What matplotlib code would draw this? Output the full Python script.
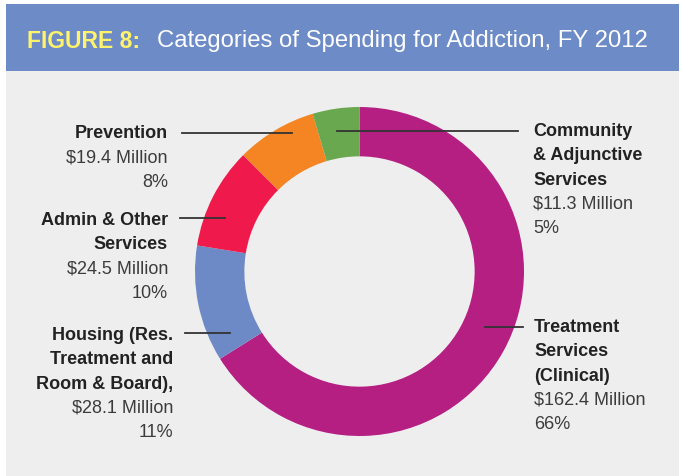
import matplotlib
matplotlib.use("Agg")
import matplotlib.pyplot as plt
from matplotlib.patches import Rectangle
from matplotlib.lines import Line2D

# ==================================
# DATA
# ==================================

categories = [
    "Treatment\nServices\n(Clinical)",
    "Housing (Res.\nTreatment and\nRoom & Board),",
    "Admin & Other\nServices",
    "Prevention",
    "Community\n& Adjunctive\nServices",
]
spending = [162.4, 28.1, 24.5, 19.4, 11.3]
percents = [66, 11, 10, 8, 5]
colors = ["#B51F82", "#6D8AC6", "#EF1A4B", "#F58422", "#6AA84F"]

# ==================================
# LAYOUT (figure pixels, y from top)
# ==================================

W, H = 682, 476
cx, cy, R = 359.5, 271.5, 164.5

# text anchor (x, first baseline, alignment), leader (x0, x1, y)
label_pos = [
    (534, 332, "left", (485, 523, 327)),
    (173, 340, "right", (185, 230, 333)),
    (168, 225, "right", (180, 225, 218)),
    (168, 138, "right", (182, 292, 132.5)),
    (533, 136, "left", (337, 518, 131)),
]
line_gap = 24.3


def fx(px):
    return px / W


def fy(py):
    return (H - py) / H


fig = plt.figure(figsize=(6.82, 4.76), dpi=100)
fig.patch.set_facecolor("white")

# panel background and header band
fig.add_artist(Rectangle((fx(6), 0), fx(W - 9), fy(4), transform=fig.transFigure,
                         facecolor="#EEEEEE", edgecolor="none", zorder=0))
fig.add_artist(Rectangle((fx(6), fy(71)), fx(W - 9), fy(4) - fy(71),
                         transform=fig.transFigure,
                         facecolor="#6D8BC7", edgecolor="none", zorder=1))

fig.text(fx(27), fy(47.5), "FIGURE 8:", color="#FFF36B", fontsize=16.5,
         fontweight="bold", family="Liberation Sans", va="baseline")
fig.text(fx(157), fy(47.5), "Categories of Spending for Addiction, FY 2012",
         color="white", fontsize=17.2, family="Liberation Sans", va="baseline")

# ==================================
# DONUT
# ==================================

ax = fig.add_axes([fx(cx - R), fy(cy + R), fx(2 * R), fy(cy - R) - fy(cy + R)])
ax.pie(
    spending,
    colors=colors,
    startangle=90,
    counterclock=False,
    radius=1,
    wedgeprops=dict(width=0.30, edgecolor="none"),
)
ax.set_xlim(-1, 1)
ax.set_ylim(-1, 1)
ax.set_aspect("auto")
ax.axis("off")

# ==================================
# LABELS
# ==================================

for name, value, pct, (tx, ty, ha, leader) in zip(
        categories, spending, percents, label_pos):
    lines = name.split("\n")
    y = ty
    for ln in lines:
        fig.text(fx(tx), fy(y), ln, ha=ha, va="baseline", fontsize=13,
                 fontweight="bold", color="#222222", family="Liberation Sans")
        y += line_gap
    fig.text(fx(tx), fy(y), f"${value} Million", ha=ha, va="baseline",
             fontsize=13, color="#3C3C3C", family="Liberation Sans")
    y += line_gap
    fig.text(fx(tx), fy(y), f"{pct}%", ha=ha, va="baseline",
             fontsize=13, color="#3C3C3C", family="Liberation Sans")

    x0, x1, ly = leader
    fig.add_artist(Line2D([fx(x0), fx(x1)], [fy(ly), fy(ly)],
                          transform=fig.transFigure, color="#333333",
                          lw=1.3, zorder=5))

fig.savefig("out.png", dpi=100, facecolor=fig.get_facecolor())
